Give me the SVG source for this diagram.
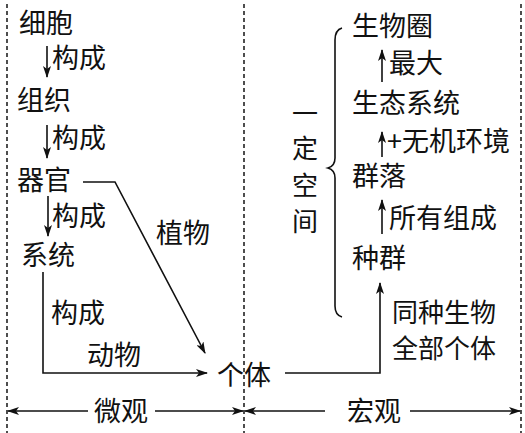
<svg xmlns="http://www.w3.org/2000/svg" width="525" height="433" viewBox="0 0 525 433">
<style>
text{font-family:"Noto Sans CJK SC","Noto Sans",sans-serif;font-size:27px;fill:#111}
.sm{font-size:26px}
.ln{fill:none;stroke:#111;stroke-width:1.6}
.ar{fill:none;stroke:#111;stroke-width:1.6;marker-end:url(#ah)}
.dash{fill:none;stroke:#222;stroke-width:1.6;stroke-dasharray:4 3}
</style>
<defs>
<marker id="ah" viewBox="0 0 12 8" refX="11" refY="4" markerWidth="12" markerHeight="8" markerUnits="userSpaceOnUse" orient="auto">
<path d="M0,0 L12,4 L0,8 L3,4 Z" fill="#111"/>
</marker>
</defs>
<g id="frame">
<line class="dash" x1="7" y1="4" x2="7" y2="433"/>
<line class="dash" x1="244" y1="4" x2="244" y2="433"/>
<line class="dash" x1="521" y1="4" x2="521" y2="433"/>
</g>
<g id="micro-nodes">
<g id="n-xibao"><text x="19" y="33">细胞</text></g>
<g id="n-zuzhi"><text x="17" y="110">组织</text></g>
<g id="n-qiguan"><text x="17" y="190">器官</text></g>
<g id="n-xitong"><text x="21" y="265">系统</text></g>
<g id="n-geti"><text x="217" y="385">个体</text></g>
</g>
<g id="macro-nodes">
<g id="n-zhongqun"><text x="352" y="268">种群</text></g>
<g id="n-qunluo"><text x="352" y="186">群落</text></g>
<g id="n-shengtai"><text x="352" y="113">生态系统</text></g>
<g id="n-shengwuquan"><text x="352" y="36">生物圈</text></g>
</g>
<g id="labels">
<text x="52" y="68">构成</text>
<text x="52" y="148">构成</text>
<text x="52" y="226">构成</text>
<text x="51" y="323">构成</text>
<text x="87" y="365">动物</text>
<text x="156" y="243">植物</text>
<text class="sm" x="392" y="322">同种生物</text>
<text class="sm" x="392" y="358">全部个体</text>
<text x="389" y="73">最大</text>
<text x="387" y="151">+无机环境</text>
<text x="389" y="228">所有组成</text>
<g id="space-label" text-anchor="middle">
<text class="sm" x="305" y="123">一</text>
<text class="sm" x="305" y="158">定</text>
<text class="sm" x="305" y="195">空</text>
<text class="sm" x="305" y="231">间</text>
</g>
<text x="94" y="421">微观</text>
<text x="347" y="421">宏观</text>
</g>
<g id="connectors">
<line class="ar" x1="47" y1="46" x2="47" y2="77"/>
<line class="ar" x1="47" y1="125" x2="47" y2="158"/>
<line class="ar" x1="48" y1="196" x2="48" y2="236"/>
<path class="ar" d="M83,182 L115,182 L205,353"/>
<path class="ar" d="M43,272 L43,373 L207,373"/>
<path class="ar" d="M285,373 L380,373 L380,283"/>
<line class="ar" x1="382" y1="82" x2="382" y2="50"/>
<line class="ar" x1="382" y1="157" x2="382" y2="132"/>
<line class="ar" x1="382" y1="234" x2="382" y2="200"/>
<path class="ln" d="M342,28 Q335,30 335,40 L335,158 Q335,166 328,168 Q335,170 335,178 L335,306 Q335,315 342,317"/>
</g>
<g id="scale">
<line class="ar" x1="88" y1="411" x2="8" y2="411"/>
<line class="ar" x1="155" y1="411" x2="243" y2="411"/>
<line class="ar" x1="325" y1="411" x2="245" y2="411"/>
<line class="ar" x1="410" y1="411" x2="520" y2="411"/>
</g>
</svg>
